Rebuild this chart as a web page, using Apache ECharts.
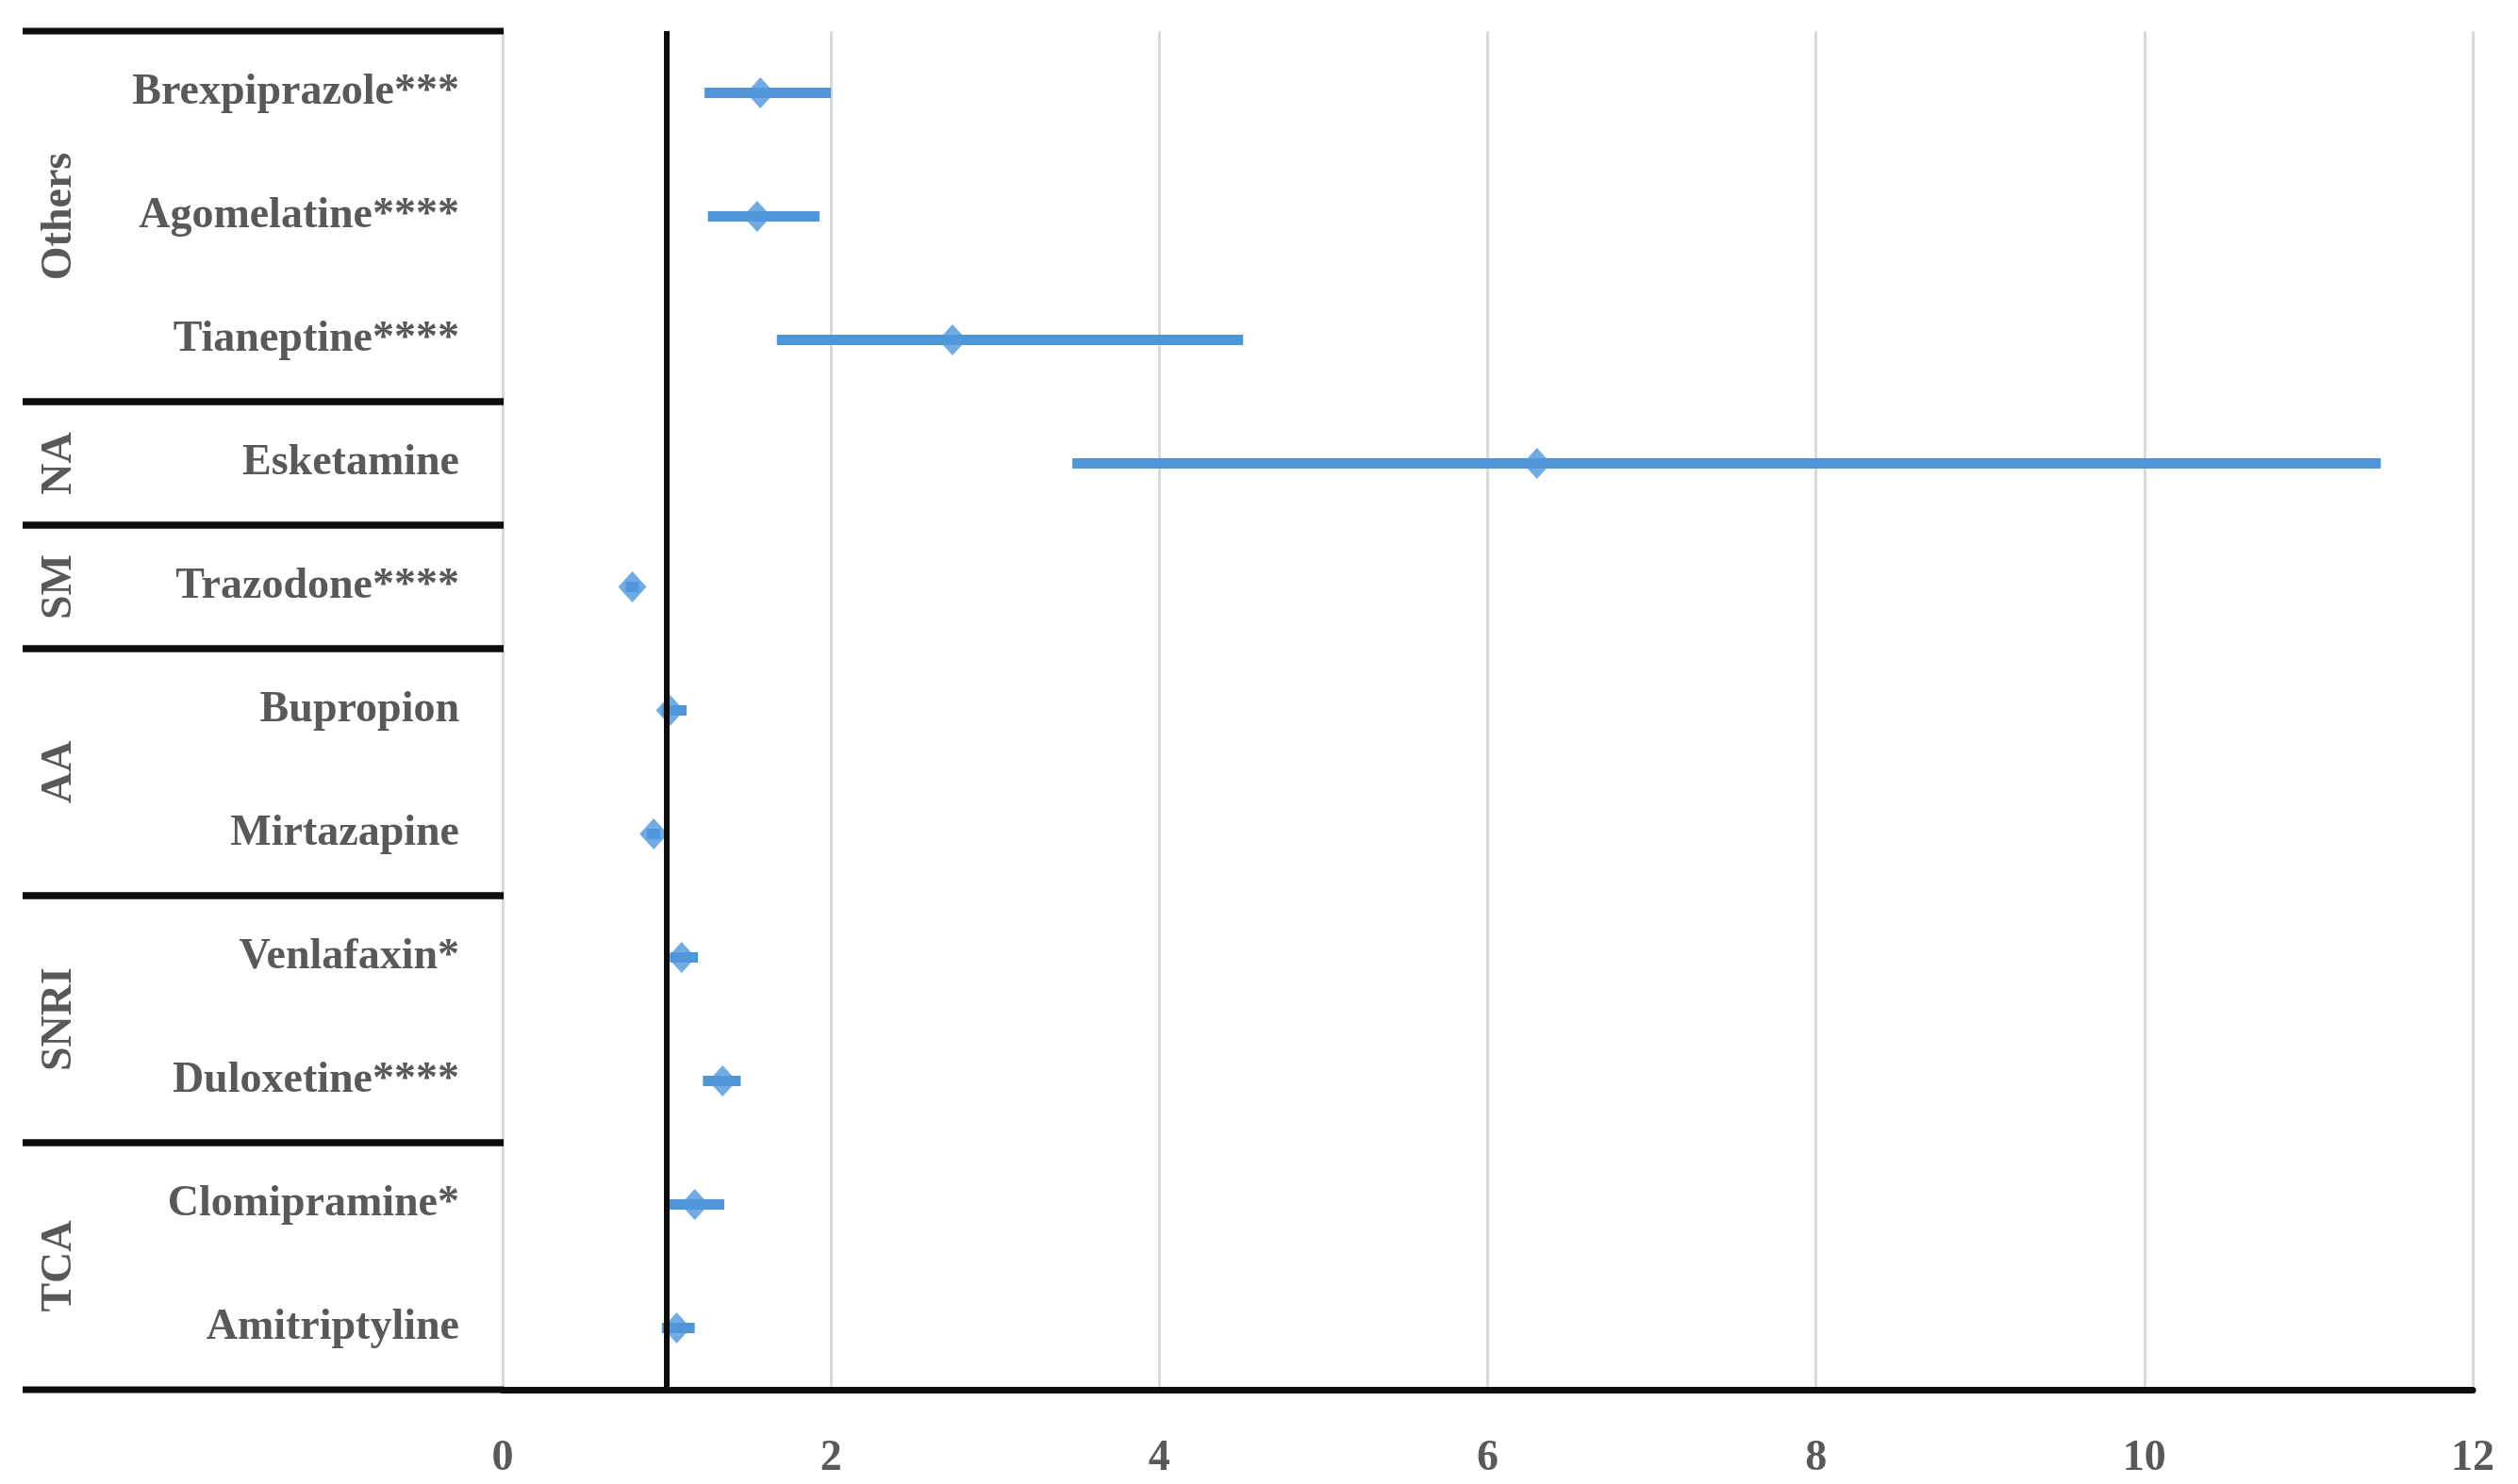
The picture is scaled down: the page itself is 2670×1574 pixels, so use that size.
<!DOCTYPE html>
<html>
<head>
<meta charset="utf-8">
<script src="https://cdn.jsdelivr.net/npm/echarts@6/dist/echarts.min.js"></script>
<style>
  html, body { margin: 0; padding: 0; background: #fff; }
  #chart { width: 2670px; height: 1574px; }
</style>
</head>
<body>
<div id="chart"></div>
<script>
// drugs listed bottom -> top (category axis starts at the bottom)
const drugs = ['Amitriptyline', 'Clomipramine*', 'Duloxetine****', 'Venlafaxin*', 'Mirtazapine',
  'Bupropion', 'Trazodone****', 'Esketamine', 'Tianeptine****', 'Agomelatine****', 'Brexpiprazole***']
const estimate = [1.06, 1.17, 1.34, 1.09, 0.92, 1.02, 0.79, 6.30, 2.74, 1.55, 1.57]
const lower = [0.97, 1.00, 1.22, 1.02, 0.88, 0.97, 0.75, 3.47, 1.67, 1.25, 1.23]
const upper = [1.17, 1.35, 1.45, 1.19, 0.96, 1.12, 0.83, 11.44, 4.51, 1.93, 2.00]

// drug classes, bottom -> top, with how many drugs each covers
const groups = ['TCA', 'SNRI', 'AA', 'SM', 'NA', 'Others']
const groupSizes = [2, 2, 2, 1, 1, 3]

const xTicks = [0, 2, 4, 6, 8, 10, 12]
const refValue = 1

const font = "'Liberation Serif', 'DejaVu Serif', serif"
const textColor = '#595959'
const blue = '#4f96d9'

// build [start, end, name] rows for the class panel
const groupRows = []
let acc = 0
groups.forEach((g, i) => {
  groupRows.push([acc, acc + groupSizes[i], g])
  acc += groupSizes[i]
})

const chart = echarts.init(document.getElementById('chart'))

const option = {
  animation: false,
  backgroundColor: '#fff',
  grid: [
    { left: 533, right: 48, top: 33, bottom: 100 },
    { left: 24, width: 510, top: 33, bottom: 100 }
  ],
  xAxis: [
    {
      type: 'value',
      gridIndex: 0,
      min: xTicks[0],
      max: xTicks[xTicks.length - 1],
      interval: 2,
      axisLine: { show: true, onZero: false, lineStyle: { color: '#0d0d0d', width: 7 } },
      axisTick: { show: false },
      splitLine: { show: true, lineStyle: { color: '#d9d9d9', width: 3 } },
      axisLabel: {
        showMinLabel: true,
        showMaxLabel: true,
        margin: 50,
        fontFamily: font,
        fontWeight: 'bold',
        fontSize: 46,
        color: textColor
      }
    },
    { type: 'value', gridIndex: 1, min: 0, max: 1, show: false }
  ],
  yAxis: [
    {
      type: 'category',
      gridIndex: 0,
      data: drugs,
      axisLine: { show: false },
      axisTick: { show: false },
      splitLine: { show: false },
      axisLabel: {
        margin: 46,
        padding: [7, 0, 0, 0],
        fontFamily: font,
        fontWeight: 'bold',
        fontSize: 46,
        color: textColor
      }
    },
    { type: 'value', gridIndex: 1, min: 0, max: drugs.length, show: false }
  ],
  series: [
    {
      // confidence intervals
      type: 'custom',
      xAxisIndex: 0,
      yAxisIndex: 0,
      z: 3,
      data: drugs.map((d, i) => [i, lower[i], upper[i]]),
      renderItem: function (params, api) {
        const a = api.coord([api.value(1), api.value(0)])
        const b = api.coord([api.value(2), api.value(0)])
        const h = 11
        return {
          type: 'rect',
          shape: { x: a[0], y: a[1] - h / 2, width: b[0] - a[0], height: h },
          style: { fill: blue }
        }
      }
    },
    {
      type: 'scatter',
      xAxisIndex: 0,
      yAxisIndex: 0,
      z: 4,
      symbol: 'diamond',
      symbolSize: [30, 33],
      itemStyle: { color: blue },
      data: drugs.map((d, i) => [estimate[i], d])
    },
    {
      // reference line at 1, drawn on top
      type: 'scatter',
      xAxisIndex: 0,
      yAxisIndex: 0,
      z: 10,
      data: [],
      markLine: {
        silent: true,
        symbol: 'none',
        label: { show: false },
        lineStyle: { color: '#0d0d0d', width: 6, type: 'solid' },
        data: [{ xAxis: refValue }]
      }
    },
    {
      // class panel: separators and rotated class names
      type: 'custom',
      xAxisIndex: 1,
      yAxisIndex: 1,
      z: 5,
      data: groupRows,
      renderItem: function (params, api) {
        const s = api.value(0)
        const e = api.value(1)
        const p0 = api.coord([0, s])
        const p1 = api.coord([1, s])
        const q0 = api.coord([0, e])
        const q1 = api.coord([1, e])
        const mid = api.coord([0.077, (s + e) / 2])
        const ls = { stroke: '#0d0d0d', lineWidth: 7 }
        return {
          type: 'group',
          children: [
            { type: 'line', shape: { x1: p0[0], y1: p0[1], x2: p1[0], y2: p1[1] }, style: ls },
            { type: 'line', shape: { x1: q0[0], y1: q0[1], x2: q1[0], y2: q1[1] }, style: ls },
            {
              type: 'text',
              x: mid[0],
              y: mid[1],
              rotation: Math.PI / 2,
              style: {
                text: groups[params.dataIndex],
                fill: textColor,
                font: 'bold 46px ' + font,
                align: 'center',
                verticalAlign: 'middle'
              }
            }
          ]
        }
      }
    }
  ]
}

chart.setOption(option)
</script>
</body>
</html>
